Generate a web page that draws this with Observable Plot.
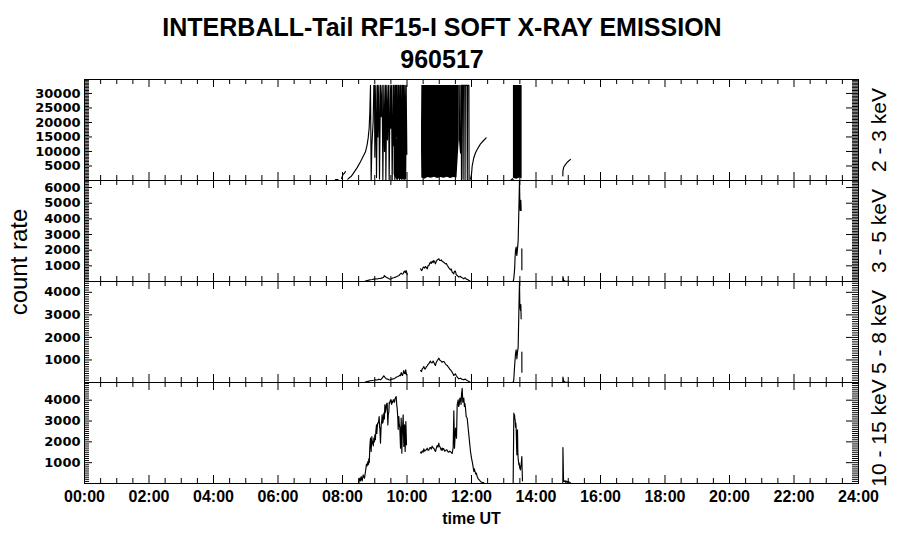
<!DOCTYPE html>
<html><head><meta charset="utf-8">
<script src="https://cdn.jsdelivr.net/npm/d3@7"></script>
<script src="https://cdn.jsdelivr.net/npm/@observablehq/plot@0.6"></script>
<style>
html,body{margin:0;padding:0;background:#fff;}
#wrap{position:relative;width:900px;height:548px;overflow:hidden;font-family:"Liberation Sans",Arial,sans-serif;color:#000;}
.t{position:absolute;left:0;width:884px;text-align:center;font-weight:bold;white-space:nowrap;}
.panel{position:absolute;left:0;width:900px;}
.panel svg{overflow:visible;}
#ylab{position:absolute;left:19px;top:262px;font-size:24px;transform:translate(-50%,-50%) rotate(-90deg);transform-origin:50% 50%;white-space:nowrap;}
</style></head><body>
<div id="wrap">
 <div class="t" style="top:13px;font-size:25px;">INTERBALL-Tail RF15-I SOFT X-RAY EMISSION</div>
 <div class="t" style="top:45px;font-size:25px;">960517</div>
 <div id="ylab">count rate</div>
</div>
<script>
// ---- axis definitions ----
const bands = ["2 - 3 keV", "3 - 5 keV", "5 - 8 keV", "10 - 15 keV"];
const yMax = [34800, 6450, 4480, 4850];
const yTicks = [
  [5000, 10000, 15000, 20000, 25000, 30000],
  [1000, 2000, 3000, 4000, 5000, 6000],
  [1000, 2000, 3000, 4000],
  [1000, 2000, 3000, 4000]
];
const yMinorStep = [500, 100, 100, 100];
const xTickHours = [0, 2, 4, 6, 8, 10, 12, 14, 16, 18, 20, 22, 24];
const xTickLabels = ["00:00","02:00","04:00","06:00","08:00","10:00","12:00","14:00","16:00","18:00","20:00","22:00","24:00"];

// ---- data: [time UT (hours), count rate] ----
// 2 - 3 keV
const p1_a = [[7.78,300],[7.86,300]];
const p1_b = [[7.97,680],[8.00,1590],[8.02,2160],[8.06,2500],[8.09,3070]];
const p1_c = [[8.165,450],[8.217,1020],[8.27,1400],[8.351,2730],[8.455,4430],[8.558,6480],[8.662,8750],[8.713,9890],[8.765,12390],[8.796,14670],[8.827,18080],[8.848,23760],[8.868,32767],[8.889,0],[8.910,12000],[8.951,20300],[8.972,32767],[8.992,32767],[9.003,8000],[9.034,32767],[9.054,1000],[9.085,32767],[9.096,15000],[9.127,32767],[9.147,500],[9.178,32767],[9.199,22000],[9.230,32767],[9.251,300],[9.282,32767],[9.302,10000],[9.333,32767],[9.344,200],[9.375,32767],[9.395,14000],[9.426,32767],[9.447,300],[9.478,32767],[9.499,18000],[9.519,32767],[9.540,0],[9.571,32767],[9.581,12000],[9.602,32767],[9.623,200],[9.643,32767],[9.654,15000],[9.674,32767],[9.695,0],[9.716,32767],[9.726,12000],[9.747,32767],[9.768,0],[9.788,32767],[9.799,13000],[9.819,32767],[9.840,0],[9.861,32767],[9.871,11000],[9.892,32767],[9.912,300],[9.933,32767],[9.954,500],[9.974,32767],[9.995,9000]];
const p1_block0T  = [9.60, 9.65, 9.70, 9.75, 9.80, 9.85, 9.90, 9.95, 9.99];
const p1_block0Lo = [2000, 800, 300, 500, 300, 400, 300, 500, 800];
const p1_block0Hi = [13000, 15000, 14000, 16000, 15000, 14000, 15000, 13000, 11000];
const p1_blockT  = [10.45, 10.46, 10.55, 10.65, 10.75, 10.85, 10.95, 11.05, 11.15, 11.25, 11.35, 11.45, 11.55, 11.62];
const p1_blockLo = [10700, 900, 400, 1000, 800, 1100, 700, 1000, 800, 1100, 700, 1000, 900, 14000];
const p1_blockHi = [18600, 32767, 32767, 32767, 32767, 32767, 32767, 32767, 32767, 32767, 32767, 32767, 32767, 32767];
const p1_d = [[11.62,32767],[11.63,14000],[11.66,9500],[11.67,32767],[11.68,32767],[11.69,300],[11.70,32767],[11.73,32767],[11.74,400],[11.75,32767],[11.79,32767],[11.80,300],[11.81,32767],[11.86,32767],[11.87,200],[11.88,32767],[11.92,32767],[11.925,0]];
const p1_e = [[11.969,450],[12.0,2160],[12.021,5000],[12.072,7850],[12.124,9550],[12.176,10690],[12.279,12620],[12.383,13870],[12.455,14670]];
const p1_f = [[13.23,200],[13.27,600],[13.29,400]];
const p1_block2T  = [13.30, 13.40, 13.50, 13.57];
const p1_block2Lo = [800, 400, 900, 600];
const p1_block2Hi = [32767, 32767, 32767, 32767];
const p1_g = [[14.832,1590],[14.835,3300],[14.863,4660],[14.915,5570],[14.987,6480],[15.07,7280]];

// 3 - 5 keV
const p2_a = [[8.71,21],[8.77,60],[8.82,85],[8.87,110],[8.92,128],[8.97,150],[9.02,170],[9.08,160],[9.13,192],[9.18,200],[9.23,234],[9.27,260],[9.30,383],[9.33,300],[9.39,234],[9.43,190],[9.47,149],[9.51,180],[9.54,213],[9.59,240],[9.64,277],[9.70,330],[9.75,383],[9.78,450],[9.82,532],[9.85,470],[9.88,490],[9.90,600],[9.92,660],[9.95,560],[9.97,703],[9.99,600],[10.005,447]];
const p2_b = [[10.42,809],[10.45,700],[10.47,745],[10.50,900],[10.52,916],[10.55,850],[10.57,958],[10.60,900],[10.63,809],[10.65,1000],[10.68,1022],[10.70,1150],[10.73,1235],[10.75,1150],[10.78,1299],[10.81,1200],[10.83,1342],[10.86,1250],[10.88,1129],[10.91,1300],[10.94,1384],[10.96,1400],[10.99,1448],[11.01,1350],[11.04,1342],[11.07,1380],[11.09,1299],[11.14,1235],[11.19,1129],[11.22,1150],[11.25,1022],[11.30,873],[11.35,745],[11.37,800],[11.40,596],[11.45,490],[11.47,650],[11.50,660],[11.53,420],[11.56,383],[11.61,277],[11.64,330],[11.66,319],[11.69,250],[11.71,234],[11.74,200],[11.76,170],[11.79,230],[11.81,234],[11.84,150],[11.87,128],[11.90,90],[11.92,64],[11.97,0]];
const p2_c = [[13.29,0],[13.31,170],[13.33,600],[13.34,916],[13.35,1500],[13.365,1981],[13.385,2194],[13.40,1700],[13.406,1661],[13.426,2087],[13.447,2620],[13.468,4537],[13.488,6450],[13.499,5176],[13.509,4537],[13.519,4580],[13.53,5176],[13.54,4537]];
const p2_d = [[13.561,2087],[13.562,745]];
const p2_e = [[14.832,0],[14.835,320],[14.86,60],[14.90,30],[15.07,0]];

// 5 - 8 keV
const p3_a = [[8.71,15],[8.76,40],[8.82,59],[8.87,75],[8.92,89],[8.97,100],[9.02,118],[9.08,110],[9.13,148],[9.18,118],[9.23,192],[9.28,296],[9.33,207],[9.36,160],[9.41,148],[9.45,110],[9.49,118],[9.53,150],[9.57,163],[9.62,180],[9.64,207],[9.68,240],[9.72,266],[9.76,300],[9.78,325],[9.80,300],[9.82,444],[9.84,350],[9.86,311],[9.88,420],[9.90,532],[9.92,400],[9.94,385],[9.96,562],[9.985,340]];
const p3_b = [[10.42,532],[10.45,480],[10.47,606],[10.50,650],[10.52,710],[10.55,600],[10.57,606],[10.60,700],[10.63,740],[10.65,800],[10.68,828],[10.70,900],[10.73,947],[10.75,880],[10.78,873],[10.81,950],[10.83,902],[10.86,800],[10.88,754],[10.91,900],[10.94,976],[10.96,1020],[10.99,1080],[11.01,1000],[11.04,976],[11.07,920],[11.09,902],[11.12,932],[11.14,932],[11.17,880],[11.19,828],[11.22,780],[11.25,754],[11.27,700],[11.30,651],[11.32,600],[11.35,562],[11.38,500],[11.40,458],[11.43,380],[11.45,311],[11.48,350],[11.50,385],[11.53,300],[11.56,237],[11.58,200],[11.61,163],[11.64,180],[11.66,192],[11.69,150],[11.71,148],[11.74,130],[11.76,118],[11.79,140],[11.81,148],[11.84,110],[11.87,89],[11.90,60],[11.92,44],[11.97,0]];
const p3_c = [[13.29,0],[13.31,100],[13.334,680],[13.35,1000],[13.365,1272],[13.385,1449],[13.40,1200],[13.406,1050],[13.426,1346],[13.447,1568],[13.468,3121],[13.488,4480],[13.499,3416],[13.51,3300],[13.519,3195],[13.53,3461],[13.54,2825]];
const p3_d = [[13.561,1346],[13.562,458]];
const p3_e = [[14.832,0],[14.835,240],[14.86,50],[14.90,20],[15.07,0]];

// 10 - 15 keV
const p4_a = [[8.507,48],[8.538,256],[8.558,128],[8.579,336],[8.61,128],[8.641,416],[8.662,300],[8.682,256],[8.713,576],[8.744,928],[8.765,850],[8.786,1056],[8.80,900],[8.817,1184],[8.83,1000],[8.848,1776],[8.868,2176],[8.889,1536],[8.91,2256],[8.925,1900],[8.941,2016],[8.955,1800],[8.972,2176],[8.99,2000],[9.003,2336],[9.02,2100],[9.034,2496],[9.054,2816],[9.065,2400],[9.075,2656],[9.09,2900],[9.106,2896],[9.12,3000],[9.137,3216],[9.15,2700],[9.158,2656],[9.178,1936],[9.199,2816],[9.215,3000],[9.23,3296],[9.245,2900],[9.261,2976],[9.282,3376],[9.30,3100],[9.313,3776],[9.325,3400],[9.344,3536],[9.36,3800],[9.385,3856],[9.406,2816],[9.42,3300],[9.437,3456],[9.45,3900],[9.468,3856],[9.488,4016],[9.509,4016],[9.525,3800],[9.54,3936],[9.56,3900],[9.571,4016],[9.592,4016],[9.61,3900],[9.633,4096],[9.664,4176],[9.68,3800],[9.695,3616],[9.716,3136],[9.726,2600],[9.747,3216],[9.757,2900],[9.778,2656],[9.799,1696],[9.81,2400],[9.819,3136],[9.83,2500],[9.840,1456],[9.85,2200],[9.861,2656],[9.881,3296],[9.89,2600],[9.902,1776],[9.912,2400],[9.923,2816],[9.933,2300],[9.943,1536],[9.954,2200],[9.964,2976],[9.975,2400],[9.985,1856]];
const p4_b = [[10.419,1504],[10.44,1450],[10.47,1568],[10.50,1500],[10.522,1664],[10.55,1550],[10.574,1600],[10.60,1620],[10.625,1696],[10.65,1600],[10.677,1600],[10.70,1700],[10.729,1728],[10.75,1650],[10.78,1792],[10.81,1700],[10.832,1696],[10.86,1600],[10.884,1536],[10.91,1700],[10.936,1824],[10.96,1750],[10.987,1936],[11.00,1800],[11.018,1776],[11.039,1696],[11.06,1600],[11.09,1700],[11.101,1600],[11.12,1680],[11.142,1664],[11.17,1550],[11.194,1568],[11.22,1620],[11.246,1600],[11.27,1520],[11.297,1504],[11.32,1550],[11.349,1536],[11.375,1480],[11.401,1440],[11.432,1728],[11.452,3488],[11.473,1696],[11.504,2656],[11.535,2176],[11.556,3776],[11.587,4016],[11.60,3700],[11.618,3776],[11.64,4100],[11.659,4096],[11.675,3800],[11.690,4256],[11.711,4576],[11.73,3900],[11.742,3936],[11.76,4100],[11.762,4096],[11.78,3700],[11.793,3856],[11.814,3616],[11.835,3216],[11.866,3136],[11.897,2656],[11.928,2176],[11.969,1536],[12.00,1216],[12.031,976],[12.06,700],[12.072,576],[12.09,700],[12.103,608],[12.134,448],[12.15,500],[12.176,336],[12.207,224],[12.248,160],[12.279,96],[12.331,48],[12.383,48]];
const p4_c = [[13.292,48],[13.313,3376],[13.323,3200],[13.334,3296],[13.344,3100],[13.354,3056],[13.365,2700],[13.375,2900],[13.385,2656],[13.395,2000],[13.406,1376],[13.416,2300],[13.426,2576],[13.437,1500],[13.447,1200],[13.457,1056],[13.468,900],[13.478,976],[13.488,850],[13.499,736],[13.519,656],[13.530,850],[13.54,896],[13.561,1296],[13.571,600],[13.581,128]];
const p4_d = [[14.832,48],[14.835,1728],[14.853,160],[14.87,100],[14.894,128],[14.915,60],[14.925,130],[14.945,60],[14.966,100],[14.987,48],[15.018,80],[15.07,30]];

// ---- assemble ----
function seg(name, arr) { return arr.map(([h, v]) => ({seg: name, h, v})); }
function block(name, T, lo, hi) { return T.map((h, i) => ({seg: name, h, lo: lo[i], hi: hi[i]})); }
const lines = [
  [].concat(seg("a", p1_a), seg("b", p1_b), seg("c", p1_c), seg("d", p1_d), seg("e", p1_e), seg("f", p1_f), seg("g", p1_g)),
  [].concat(seg("a", p2_a), seg("b", p2_b), seg("c", p2_c), seg("d", p2_d), seg("e", p2_e)),
  [].concat(seg("a", p3_a), seg("b", p3_b), seg("c", p3_c), seg("d", p3_d), seg("e", p3_e)),
  [].concat(seg("a", p4_a), seg("b", p4_b), seg("c", p4_c), seg("d", p4_d))
];
const blocks = [
  [].concat(block("k0", p1_block0T, p1_block0Lo, p1_block0Hi), block("k1", p1_blockT, p1_blockLo, p1_blockHi), block("k2", p1_block2T, p1_block2Lo, p1_block2Hi)),
  [], [], []
];

const W = 900, ML = 84, MR = 42, PH = 101;
const tops = [79, 180, 281, 382];
const hPerPx = 24 / (W - ML - MR);
const FONT = "Liberation Sans, Arial, sans-serif";

const wrap = document.getElementById("wrap");
for (let i = 0; i < 4; i++) {
  const ym = yMax[i];
  const vPerPx = ym / PH;
  const minorY = d3.range(yMinorStep[i], ym, yMinorStep[i]).filter(v => !yTicks[i].includes(v));
  const minorX = d3.range(0.5, 24, 0.5).filter(h => h % 2 !== 0);
  const majorX = xTickHours.filter(h => h > 0 && h < 24);
  const marks = [
    Plot.areaY(blocks[i], {x: "h", y1: "lo", y2: "hi", z: "seg", fill: "black"}),
    Plot.line(lines[i], {x: "h", y: "v", z: "seg", stroke: "black", strokeWidth: 1.15}),
    // y ticks left & right (inward)
    Plot.ruleY(yTicks[i], {x1: 0, x2: 8 * hPerPx, stroke: "black"}),
    Plot.ruleY(minorY, {x1: 0, x2: 5 * hPerPx, stroke: "black"}),
    Plot.ruleY(yTicks[i], {x1: 24 - 12 * hPerPx, x2: 24, stroke: "black"}),
    Plot.ruleY(minorY, {x1: 24 - 6 * hPerPx, x2: 24, stroke: "black"}),
    // x ticks bottom & top (inward)
    Plot.ruleX(majorX, {y1: 0, y2: 8 * vPerPx, stroke: "black"}),
    Plot.ruleX(minorX, {y1: 0, y2: 5 * vPerPx, stroke: "black"}),
    Plot.ruleX(majorX, {y1: ym - 8 * vPerPx, y2: ym, stroke: "black"}),
    Plot.ruleX(minorX, {y1: ym - 5 * vPerPx, y2: ym, stroke: "black"}),
    Plot.frame({stroke: "black"}),
    Plot.text(yTicks[i], {y: d => d, text: d => String(d), frameAnchor: "left", textAnchor: "end", dx: -4, fontSize: 13, fontFamily: "DejaVu Sans", fontWeight: "bold", fill: "black"}),
    Plot.text([bands[i]], {frameAnchor: "right", textAnchor: "middle", text: d => d, rotate: -90, dx: 21, fontSize: 21, fill: "black"})
  ];
  if (i === 3) {
    marks.push(Plot.text(xTickHours, {x: d => d, text: (d, j) => xTickLabels[j], frameAnchor: "bottom", dy: 18, fontSize: 16, fontWeight: "bold", fill: "black"}));
    marks.push(Plot.text(["time UT"], {frameAnchor: "bottom", text: d => d, dy: 40, fontSize: 16, fontWeight: "bold", fill: "black"}));
  }
  const svg = Plot.plot({
    width: W, height: PH,
    marginLeft: ML, marginRight: MR, marginTop: 0, marginBottom: 0,
    style: {background: "transparent", overflow: "visible", fontFamily: FONT},
    x: {domain: [0, 24], axis: null},
    y: {domain: [0, ym], axis: null},
    marks
  });
  const div = document.createElement("div");
  div.className = "panel";
  div.style.top = tops[i] + "px";
  div.appendChild(svg);
  wrap.appendChild(div);
}
</script>
</body></html>
